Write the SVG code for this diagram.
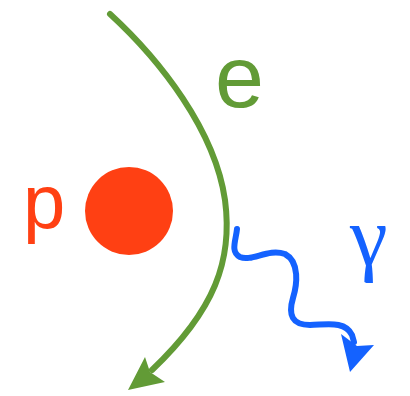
<svg xmlns="http://www.w3.org/2000/svg" width="410" height="396" viewBox="0 0 410 396">
<style>
.g{fill:none;stroke:#629B36;stroke-width:6;stroke-linecap:round}
.b{fill:none;stroke:#1462FF;stroke-width:6;stroke-linecap:round}
.t{font-family:"Liberation Sans",Arial,sans-serif}
</style>
<rect width="410" height="396" fill="#fff"/>
<g id="proton">
<circle cx="129" cy="211" r="44" fill="#FF4013"/>
<text class="t" x="23" y="228" font-size="76" fill="#FF4013">p</text>
</g>
<g id="connectors">
<g id="electron-path">
<path class="g" d="M110,14 C160,60 215,130 225,200 C233,260 215,310 152,370"/>
<polygon points="145,357 128,390 165,382 150,372" fill="#629B36"/>
</g>
<g id="photon-path">
<path class="b" d="M237,229 C236,240 230,252 240,257 C252,262 268,248 285,254 C300,262 297,285 293,298 C288,315 292,325 310,325 C325,325 345,320 352,335 L354,342"/>
<polygon points="341,334 350,372 374,345 357,346" fill="#1462FF"/>
</g>
</g>
<g id="label-e">
<text class="t" x="215" y="107" font-size="88" fill="#629B36">e</text>
</g>
<g id="label-gamma">
<text x="350" y="265" font-size="85" fill="#1462FF" font-family="Liberation Serif,serif">γ</text>
</g>
</svg>
